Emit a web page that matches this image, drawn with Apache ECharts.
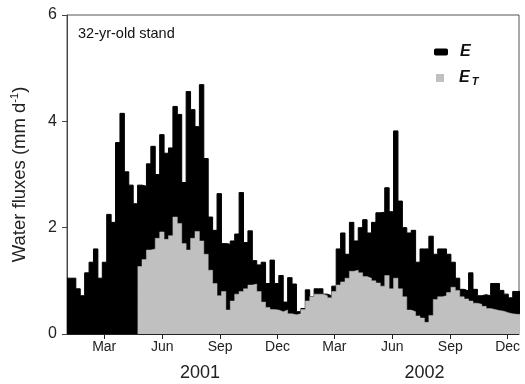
<!DOCTYPE html>
<html>
<head>
<meta charset="utf-8">
<script src="https://cdn.jsdelivr.net/npm/echarts@6/dist/echarts.min.js"></script>
<style>
  html, body { margin: 0; padding: 0; background: #fff; }
  #chart { width: 525px; height: 384px; }
</style>
</head>
<body>
<div id="chart"></div>
<script>
// Weekly water fluxes (mm d-1), week 0 starts on 1 Jan 2001.
const daysPerStep = 7;

// Total evaporation E
const fluxE = [
  1.05, 1.05, 0.85, 0.72, 1.15, 1.35, 1.60, 1.05, 1.35, 2.25,
  2.10, 3.60, 4.15, 3.05, 2.80, 2.45, 2.80, 2.78, 3.20, 3.53,
  3.00, 3.75, 3.40, 3.50, 4.28, 4.13, 2.85, 4.56, 4.22, 3.90,
  4.69, 3.30, 2.20, 1.95, 2.64, 1.70, 1.69, 1.75, 1.88, 2.66,
  1.72, 1.94, 1.38, 1.30, 1.35, 0.95, 1.39, 0.95, 1.10, 0.60,
  1.06, 0.94, 0.42, 0.48, 0.83, 0.70, 0.85, 0.85, 0.75, 0.72,
  0.90, 1.60, 1.90, 1.50, 2.10, 1.75, 2.00, 2.15, 1.90, 2.10,
  2.28, 2.29, 2.75, 2.30, 3.82, 2.50, 2.00, 1.90, 1.95, 1.35,
  1.60, 1.60, 1.84, 1.50, 1.60, 1.60, 1.50, 1.35, 1.05, 0.84,
  0.81, 1.15, 0.84, 0.72, 0.74, 0.72, 0.95, 0.95, 0.82, 0.75,
  0.68, 0.80, 0.80
];

// Tree transpiration E_T (not measured before late April 2001)
const fluxET = [
  null, null, null, null, null, null, null, null, null, null,
  null, null, null, null, null, null, 1.27, 1.40, 1.58, 1.60,
  1.80, 1.92, 1.78, 1.85, 2.20, 2.08, 1.70, 1.58, 1.80, 1.93,
  1.75, 1.50, 1.20, 0.95, 0.72, 0.80, 0.45, 0.62, 0.75, 0.80,
  0.85, 0.92, 0.94, 0.80, 0.60, 0.50, 0.46, 0.45, 0.42, 0.45,
  0.38, 0.36, 0.38, 0.46, 0.62, 0.70, 0.75, 0.75, 0.72, 0.68,
  0.80, 0.92, 0.98, 1.05, 1.18, 1.20, 1.15, 1.08, 1.05, 1.00,
  0.96, 0.90, 1.10, 0.85, 1.05, 0.85, 0.70, 0.45, 0.42, 0.34,
  0.30, 0.22, 0.35, 0.65, 0.70, 0.72, 0.78, 0.88, 0.82, 0.70,
  0.66, 0.62, 0.58, 0.56, 0.52, 0.48, 0.46, 0.44, 0.43, 0.40,
  0.38, 0.37, 0.37
];

// Month ticks (day since 1 Jan 2001) and their labels
const monthTickDays = [59, 151, 243, 334, 424, 516, 608, 699];
const monthTickLabels = ['Mar', 'Jun', 'Sep', 'Dec', 'Mar', 'Jun', 'Sep', 'Dec'];
// Year labels and the day each is centred on
const yearDays = [211, 567];
const yearLabels = ['2001', '2002'];

const lastDay = 717;

function toSteps(values) {
  const pts = values.map((v, i) => [i * daysPerStep, v]);
  pts.push([values.length * daysPerStep, values[values.length - 1]]);
  return pts;
}

const font = 'Liberation Sans, Arial, Helvetica, sans-serif';
const chart = echarts.init(document.getElementById('chart'), null, { renderer: 'canvas' });

chart.setOption({
  animation: false,
  backgroundColor: '#fff',
  textStyle: { fontFamily: font },
  title: {
    text: '32-yr-old stand',
    left: 73, top: 21,
    textStyle: { fontSize: 14.5, fontWeight: 'normal', color: '#111', fontFamily: font }
  },
  legend: [
    {
      data: ['E'],
      left: 429, top: 39,
      icon: 'roundRect',
      itemWidth: 14, itemHeight: 7,
      textStyle: { fontSize: 16, fontStyle: 'italic', fontWeight: 'bold', color: '#111', padding: [0, 0, 0, 7], fontFamily: font }
    },
    {
      data: ['ET'],
      left: 431, top: 65,
      icon: 'rect',
      itemWidth: 8, itemHeight: 8,
      formatter: () => '{e|E}{t|T}',
      textStyle: {
        color: '#111', padding: [0, 0, 0, 10], fontFamily: font,
        rich: {
          e: { fontSize: 16, fontStyle: 'italic', fontWeight: 'bold', color: '#111', fontFamily: font },
          t: { fontSize: 11, fontStyle: 'italic', fontWeight: 'bold', color: '#111', padding: [8, 0, 0, 2], fontFamily: font }
        }
      }
    }
  ],
  grid: {
    left: 67, right: 6, top: 15, bottom: 50,
    show: true, borderColor: '#555', borderWidth: 1, backgroundColor: 'transparent'
  },
  xAxis: [
    {
      type: 'value', min: 0, max: lastDay,
      axisLine: { show: true, lineStyle: { color: '#222', width: 1 } },
      axisTick: { show: true, inside: false, length: 5, customValues: monthTickDays, lineStyle: { color: '#222' } },
      axisLabel: {
        customValues: monthTickDays,
        formatter: (v) => monthTickLabels[monthTickDays.indexOf(v)],
        fontSize: 14, color: '#222', margin: 6, fontFamily: font
      },
      splitLine: { show: false }
    },
    {
      type: 'value', min: 0, max: lastDay, position: 'bottom', offset: 26,
      axisLine: { show: false },
      axisTick: { show: false },
      axisLabel: {
        customValues: yearDays,
        formatter: (v) => yearLabels[yearDays.indexOf(v)],
        fontSize: 18, color: '#222', margin: 4, fontFamily: font
      },
      splitLine: { show: false }
    }
  ],
  yAxis: {
    type: 'value', min: 0, max: 6, interval: 2,
    name: 'Water fluxes (mm d{sup|-1})',
    nameLocation: 'middle', nameGap: 37, nameRotate: 90,
    nameTextStyle: {
      fontSize: 18.5, color: '#222', fontFamily: font,
      rich: { sup: { fontSize: 11, color: '#222', padding: [0, 0, 10, 0], fontFamily: font } }
    },
    axisLine: { show: true, lineStyle: { color: '#444', width: 1 } },
    axisTick: { show: true, inside: false, length: 5, lineStyle: { color: '#444' } },
    axisLabel: { fontSize: 16, color: '#222', margin: 10, fontFamily: font },
    splitLine: { show: false }
  },
  series: [
    {
      name: 'E', type: 'line', step: 'end', symbol: 'none',
      data: toSteps(fluxE),
      itemStyle: { color: '#000' },
      lineStyle: { color: '#000', width: 1 },
      areaStyle: { color: '#000', opacity: 1 },
      z: 2
    },
    {
      name: 'ET', type: 'line', step: 'end', symbol: 'none',
      data: toSteps(fluxET),
      itemStyle: { color: '#c0c0c0' },
      lineStyle: { color: '#c0c0c0', width: 0.5 },
      areaStyle: { color: '#c0c0c0', opacity: 1 },
      z: 3
    }
  ]
});
</script>
</body>
</html>
